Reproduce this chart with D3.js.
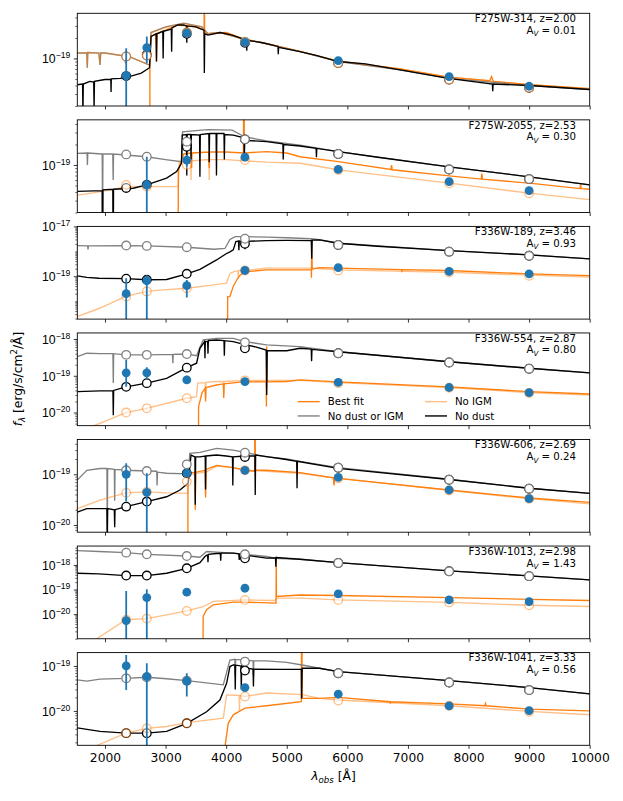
<!DOCTYPE html>
<html>
<head>
<meta charset="utf-8">
<script src="https://cdn.jsdelivr.net/npm/d3@7"></script>
<style>
body { margin: 0; background: #fff; }
svg { font-family: "DejaVu Sans", sans-serif; }
</style>
</head>
<body>
<div id="chart"></div>
<script>
// filters (observed wavelength of each band) and panel labels
var filters = [2350, 2690, 3350, 4310, 5850, 7680, 9000];
var names = ["F275W-314", "F275W-2055", "F336W-189", "F336W-554", "F336W-606", "F336W-1013", "F336W-1041"];
var redshifts = ["2.00", "2.53", "3.46", "2.87", "2.69", "2.98", "3.33"];
var avs = ["0.01", "0.30", "0.93", "0.80", "0.24", "1.43", "0.56"];
var yLims = [[2e-20, 4.6e-19], [2e-20, 4.6e-19], [1.9e-21, 1e-17], [4.4e-21, 1.46e-18],
             [7.2e-21, 4.86e-19], [1e-21, 5.85e-18], [1.72e-21, 1.98e-19]];
var yMajor = [[1e-19], [1e-19], [1e-17, 1e-19], [1e-18, 1e-19, 1e-20], [1e-19, 1e-20],
              [1e-18, 1e-19, 1e-20], [1e-19, 1e-20]];
var xTicks = [2000, 3000, 4000, 5000, 6000, 7000, 8000, 9000, 10000];
var legendLabels = ["Best fit", "No dust or IGM", "No IGM", "No dust"];

// ---- panel 1 : F275W-314
var p1Fit = [[2739,1e-23],[2741,8e-20],[2760,2.1e-19],[2840,2.3e-19],[2850,9e-20],[2860,2.3e-19],[3000,2.6e-19],[3200,3.1e-19],[3500,2.9e-19],[3636,2.6e-19],[3640,1e-17],[3644,2.4e-19],[3700,2.3e-19],[4000,2.4e-19],[4300,1.9e-19],[4600,1.7e-19],[5218,1.27e-19],[5850,9.1e-20],[6870,7e-20],[7670,5.3e-20],[8350,4.7e-20],[8380,5.4e-20],[8410,4.6e-20],[9010,4.1e-20],[10000,3.6e-20]];
var p1Raw = [[1543,1.2e-19],[1700,1.2e-19],[1708,7.3e-20],[1716,1.22e-19],[1900,1.2e-19],[1917,8e-20],[1930,1.2e-19],[2000,1.2e-19],[2330,1.08e-19],[2338,8.5e-20],[2346,1.07e-19],[2400,1.06e-19],[2736,8e-20],[2760,2.4e-19],[3000,2.9e-19],[3300,3.3e-19],[3600,2.9e-19],[3700,2.3e-19],[3900,2.4e-19],[4300,1.9e-19],[4600,1.7e-19],[5218,1.26e-19],[5850,9e-20],[6870,6.8e-20],[7670,5.1e-20],[9010,4e-20],[10000,3.5e-20]];
var p1NoIgm = [[1543,1.2e-19],[1700,1.2e-19],[1708,7.3e-20],[1716,1.22e-19],[1900,1.2e-19],[1917,8e-20],[1930,1.2e-19],[2000,1.2e-19],[2330,1.08e-19],[2338,8.5e-20],[2346,1.07e-19],[2400,1.06e-19],[2736,8e-20],[2760,2.4e-19],[3000,2.85e-19],[3300,3.25e-19],[3600,2.9e-19],[3700,2.3e-19],[3900,2.4e-19],[4300,1.9e-19],[4600,1.7e-19],[5218,1.27e-19],[5850,9.1e-20],[6870,7e-20],[7670,5.3e-20],[9010,4.1e-20],[10000,3.6e-20]];
var p1NoDust = [[1543,4.1e-20],[1630,4.2e-20],[1636,1.5e-20],[1642,4.2e-20],[1750,4.6e-20],[1814,4.5e-20],[1820,1.8e-20],[1826,4.6e-20],[2000,4.9e-20],[2096,4.9e-20],[2100,3.2e-20],[2104,5e-20],[2250,5.1e-20],[2400,5.4e-20],[2600,6.1e-20],[2735,7.3e-20],[2760,2.1e-19],[2844,2.3e-19],[2850,9e-20],[2856,2.3e-19],[2954,2.5e-19],[2960,1e-19],[2966,2.5e-19],[3094,2.7e-19],[3100,1.25e-19],[3106,2.8e-19],[3200,3.1e-19],[3300,3.1e-19],[3345,3e-19],[3350,1.7e-19],[3355,3e-19],[3500,2.9e-19],[3634,2.6e-19],[3640,6.1e-20],[3646,2.3e-19],[3700,2.2e-19],[3900,2.4e-19],[4100,2.2e-19],[4300,1.9e-19],[4336,1.85e-19],[4340,1.3e-19],[4344,1.85e-19],[4600,1.7e-19],[4855,1.5e-19],[4860,1.15e-19],[4865,1.45e-19],[5218,1.26e-19],[5500,1.1e-19],[5850,9e-20],[6300,8.3e-20],[6870,6.8e-20],[7670,5.1e-20],[8394,4.2e-20],[8400,3.3e-20],[8406,4.2e-20],[9010,4e-20],[10000,3.5e-20]];
var p1Phot = [[1.07e-19,1.1e-19,2.4e-19,1.75e-19,8.5e-20,4.85e-20,3.7e-20],
              [5.5e-20,1.13e-19,2.3e-19,1.7e-19,8.6e-20,4.9e-20,3.7e-20],
              [1.07e-19,1.1e-19,2.4e-19,1.75e-19,8.6e-20,4.9e-20,3.7e-20]];
var p1Obs = [[2350,5.6e-20],[2690,1.44e-19],[3350,2.35e-19],[4310,1.72e-19],[5850,9.3e-20],[7680,5.4e-20],[9000,3.9e-20]];
var p1Err = [[2350,1e-23,1.41e-19],[2690,8.5e-20,2.1e-19]];

// ---- panel 2 : F275W-2055
var p2Fit = [[3206,1e-23],[3210,8.5e-20],[3300,1.45e-19],[3424,1.5e-19],[3430,9e-20],[3436,1.5e-19],[3714,1.55e-19],[3720,9e-20],[3726,1.55e-19],[4000,1.55e-19],[4285,1.5e-19],[4292,1e-17],[4300,1.5e-19],[4667,1.57e-19],[5000,1.5e-19],[5218,1.32e-19],[5850,1.12e-19],[6720,8.6e-20],[6730,1e-19],[6740,8.5e-20],[7680,6.9e-20],[8210,6.2e-20],[8220,7.5e-20],[8230,6.2e-20],[9000,5.4e-20],[9840,4.5e-20],[9850,5.2e-20],[9860,4.5e-20],[10000,4.4e-20]];
var p2Raw = [[1543,1.48e-19],[1704,1.5e-19],[1710,1e-19],[1716,1.5e-19],[1954,1.45e-19],[1960,1.5e-20],[1966,1.45e-19],[2129,1.45e-19],[2135,6e-20],[2141,1.45e-19],[2687,1.32e-19],[3000,1.2e-19],[3265,1.12e-19],[3280,3.07e-19],[3500,3.2e-19],[3700,3.3e-19],[4100,3.25e-19],[4300,2.6e-19],[4667,2.25e-19],[5218,1.96e-19],[5850,1.57e-19],[7680,9.4e-20],[9000,6.7e-20],[10000,5.1e-20]];
var p2NoIgm = [[1543,3.6e-20],[1800,3.9e-20],[2100,4.3e-20],[2346,4.8e-20],[2687,4.8e-20],[3000,4.8e-20],[3210,4.8e-20],[3225,1.1e-19],[3414,1.15e-19],[3420,6e-20],[3426,1.15e-19],[3714,1.2e-19],[3720,6e-20],[3726,1.2e-19],[4000,1.2e-19],[4300,1.15e-19],[4667,1.1e-19],[5218,1.06e-19],[5541,9.5e-20],[5850,8.45e-20],[7680,5.4e-20],[9000,3.85e-20],[10000,3.1e-20]];
var p2NoDust = [[1543,4.1e-20],[1954,4.2e-20],[1960,1e-21],[1966,4.3e-20],[2129,4.4e-20],[2135,1e-21],[2141,4.4e-20],[2467,4.55e-20],[2687,5.1e-20],[3017,6.4e-20],[3182,8e-20],[3262,1.06e-19],[3275,2.75e-19],[3344,2.8e-19],[3350,7e-20],[3356,2.8e-19],[3414,2.8e-19],[3420,1.2e-19],[3426,2.8e-19],[3561,2.75e-19],[3567,6.7e-20],[3573,2.8e-19],[3714,2.9e-19],[3720,1.1e-19],[3726,2.9e-19],[3834,2.9e-19],[3840,7e-20],[3846,2.9e-19],[3964,2.9e-19],[3970,1.2e-19],[3976,2.8e-19],[4117,2.75e-19],[4294,2.5e-19],[4300,1.2e-19],[4306,2.3e-19],[4667,2.2e-19],[4936,2.05e-19],[4942,1.2e-19],[4948,2e-19],[5218,1.9e-19],[5484,1.75e-19],[5490,1.3e-19],[5496,1.75e-19],[5850,1.57e-19],[6500,1.3e-19],[7680,9.4e-20],[9000,6.7e-20],[10000,5.1e-20]];
var p2Phot = [[5.1e-20,4.8e-20,1.0e-19,1.18e-19,8.4e-20,5.4e-20,3.85e-20],
              [4.6e-20,5.1e-20,1.85e-19,2.38e-19,1.45e-19,8.6e-20,6.2e-20],
              [1.43e-19,1.32e-19,2.2e-19,2.38e-19,1.45e-19,8.6e-20,6.2e-20]];
var p2Obs = [[2690,5.1e-20],[3350,1.18e-19],[4310,1.3e-19],[5850,8.6e-20],[7680,5.7e-20],[9000,4.2e-20]];
var p2Err = [[2690,1e-23,1.32e-19],[3350,9.5e-20,1.4e-19]];

// ---- panel 3 : F336W-189
var p3Fit = [[4020,1e-23],[4025,1.5e-20],[4062,1.55e-20],[4117,3.9e-20],[4172,6.9e-20],[4230,1.1e-19],[4310,1.5e-19],[4667,1.8e-19],[5000,1.8e-19],[5405,1.8e-19],[5408,8.7e-20],[5412,3.3e-18],[5420,1.9e-19],[5541,2.2e-19],[5850,2.1e-19],[6890,1.85e-19],[6900,1.6e-19],[6910,1.85e-19],[7680,1.7e-19],[9000,1.24e-19],[10000,1.06e-19]];
var p3Raw = [[1543,1.7e-18],[1714,1.65e-18],[1720,1.2e-18],[1726,1.65e-18],[2346,1.7e-18],[2687,1.65e-18],[3350,1.46e-18],[3800,1.21e-18],[3980,1.3e-18],[4062,3e-18],[4150,3.9e-18],[4310,3.9e-18],[4667,3.7e-18],[5000,3.5e-18],[5400,3.2e-18],[5541,2.9e-18],[5850,2.1e-18],[7680,1.07e-18],[9000,7.2e-19],[10000,5e-19]];
var p3NoIgm = [[1543,2.4e-21],[1917,5.3e-21],[2346,1.55e-20],[2687,2.45e-20],[3017,2.9e-20],[3350,3.3e-20],[3700,4.2e-20],[4007,5.3e-20],[4062,1.3e-19],[4150,1.6e-19],[4194,1.6e-19],[4200,8e-20],[4206,1.7e-19],[4310,1.7e-19],[4667,2.1e-19],[5000,2.1e-19],[5400,2.1e-19],[5850,1.8e-19],[7680,1.45e-19],[9000,1.1e-19],[10000,9.3e-20]];
var p3NoDust = [[1543,1.04e-19],[1700,9e-20],[1900,8.3e-20],[2346,8e-20],[2687,7.2e-20],[3017,7.4e-20],[3350,1.25e-19],[3567,1.9e-19],[3842,4.5e-19],[4000,8e-19],[4062,9.5e-19],[4117,1.14e-18],[4160,2.45e-18],[4204,2.6e-18],[4210,1.1e-18],[4216,2.6e-18],[4304,2.4e-18],[4310,1.2e-18],[4316,2.5e-18],[4667,2.7e-18],[5000,2.75e-18],[5405,2.7e-18],[5412,5e-19],[5420,2.8e-18],[5541,2.86e-18],[5850,2.1e-18],[6500,1.6e-18],[7680,1.07e-18],[9000,7.2e-19],[10000,5e-19]];
var p3Phot = [[1.55e-20,2.45e-20,3.3e-20,1.7e-19,1.7e-19,1.41e-19,1.04e-19],
              [8e-20,7.2e-20,1.25e-19,2e-18,1.8e-18,9.7e-19,6.6e-19],
              [1.7e-18,1.65e-18,1.46e-18,3.2e-18,1.8e-18,9.7e-19,6.6e-19]];
var p3Obs = [[2350,2e-20],[2690,6.6e-20],[3350,4.2e-20],[4310,1.7e-19],[5850,2.2e-19],[7680,1.55e-19],[9000,1.25e-19]];
var p3Err = [[2350,1e-23,8.3e-20],[2690,1e-23,1.1e-19],[3350,1.4e-20,7e-20]];

// ---- panel 4 : F336W-554
var p4Fit = [[3540,1e-23],[3545,1.45e-20],[3600,3.4e-20],[3654,4.6e-20],[3660,2e-20],[3666,4.8e-20],[3842,5.6e-20],[3954,6e-20],[3960,2.5e-20],[3966,6e-20],[4310,6.9e-20],[4660,6.8e-20],[4664,1.45e-20],[4669,6.2e-19],[4674,6.8e-20],[5000,7e-20],[5218,7.7e-20],[5850,6.8e-20],[7680,5e-20],[9000,3.7e-20],[10000,3.2e-20]];
var p4Raw = [[1543,3.3e-19],[1700,4.1e-19],[1917,4e-19],[2131,4e-19],[2137,6.4e-20],[2143,4e-19],[2346,3.7e-19],[2687,3.7e-19],[3114,3.8e-19],[3120,2.2e-19],[3126,3.8e-19],[3350,3.9e-19],[3512,3.5e-19],[3567,6e-19],[3622,9.4e-19],[3842,1.04e-18],[4117,1.04e-18],[4310,8.5e-19],[4667,6.9e-19],[5218,6.2e-19],[5850,4.5e-19],[7680,2.4e-19],[9000,1.6e-19],[10000,1.2e-19]];
var p4NoIgm = [[1543,3e-21],[1917,5.1e-21],[2346,1e-20],[2687,1.3e-20],[3350,2.45e-20],[3512,2.7e-20],[3530,6.3e-20],[3654,6.5e-20],[3660,2.5e-20],[3666,6.6e-20],[3842,7e-20],[3954,7e-20],[3960,3e-20],[3966,7e-20],[4310,7.5e-20],[4667,7.5e-20],[5218,7.5e-20],[5850,6.5e-20],[7680,4.8e-20],[9000,3.5e-20],[10000,3e-20]];
var p4NoDust = [[1543,3.7e-20],[1917,3.9e-20],[2131,3.9e-20],[2137,8.5e-21],[2143,4e-20],[2346,5e-20],[2687,6.3e-20],[3017,8.5e-20],[3350,1.66e-19],[3512,2.2e-19],[3567,5.6e-19],[3644,8.5e-19],[3650,3e-19],[3656,8.5e-19],[3694,8.5e-19],[3700,4e-19],[3706,9e-19],[3842,9.4e-19],[3964,9e-19],[3970,3.5e-19],[3976,9e-19],[4117,8.5e-19],[4310,7e-19],[4500,6e-19],[4660,5e-19],[4669,3e-20],[4678,4.8e-19],[5000,4.8e-19],[5218,5.6e-19],[5404,5.3e-19],[5410,2.5e-19],[5416,5.2e-19],[5850,4.5e-19],[7680,2.4e-19],[9000,1.6e-19],[10000,1.2e-19]];
var p4Phot = [[1e-20,1.3e-20,2.45e-20,7.5e-20,6.3e-20,4.7e-20,3.4e-20],
              [5e-20,6.3e-20,1.66e-19,5.6e-19,4.1e-19,2.3e-19,1.55e-19],
              [3.7e-19,3.7e-19,3.9e-19,8.1e-19,4.1e-19,2.3e-19,1.55e-19]];
var p4Obs = [[2350,1.2e-19],[2690,1.2e-19],[3350,7.7e-20],[4310,6.9e-20],[5850,6.6e-20],[7680,4.8e-20],[9000,3.5e-20]];
var p4Err = [[2350,5e-20,2.7e-19],[2690,8e-20,1.7e-19],[3350,6e-20,1e-19]];

// ---- panel 5 : F336W-606
var p5Fit = [[3365,1e-23],[3370,1.05e-19],[3484,1.1e-19],[3490,2e-20],[3496,1.1e-19],[3654,1.2e-19],[3660,3.5e-20],[3666,1.25e-19],[3842,1.5e-19],[4117,1.35e-19],[4310,1.2e-19],[4470,1.15e-19],[4476,1e-17],[4482,1.2e-19],[4667,1.2e-19],[5218,1.08e-19],[5770,8.5e-20],[5780,6e-20],[5790,8.5e-20],[5850,8.3e-20],[7680,4.9e-20],[9000,3.4e-20],[10000,2.8e-20]];
var p5Raw = [[1543,7.7e-20],[1700,1.2e-19],[1917,1.3e-19],[2032,1.3e-19],[2038,7e-21],[2044,1.3e-19],[2154,1.25e-19],[2160,3e-20],[2166,1.25e-19],[2346,1.2e-19],[2687,1.16e-19],[2854,1.15e-19],[2860,6e-20],[2866,1.1e-19],[3017,1.05e-19],[3350,1.02e-19],[3375,1e-19],[3400,2.6e-19],[3567,2.7e-19],[3842,3.25e-19],[4117,3e-19],[4310,2.7e-19],[4667,2.2e-19],[5000,2e-19],[5218,1.8e-19],[5850,1.35e-19],[7680,8e-20],[9000,5.3e-20],[10000,4.2e-20]];
var p5NoIgm = [[1543,2.1e-20],[1917,3.1e-20],[2346,4.3e-20],[2687,4.5e-20],[3017,4.3e-20],[3365,4.2e-20],[3380,1.05e-19],[3484,1e-19],[3490,3.5e-20],[3496,1.05e-19],[3654,1.1e-19],[3660,4e-20],[3666,1.1e-19],[3842,1.45e-19],[4117,1.35e-19],[4310,1.2e-19],[4667,1.15e-19],[5218,1.05e-19],[5770,8.5e-20],[5780,6.5e-20],[5790,8.5e-20],[7680,4.8e-20],[9000,3.3e-20],[10000,2.6e-20]];
var p5NoDust = [[1543,1.8e-20],[1700,2.1e-20],[2032,2.1e-20],[2038,4e-21],[2044,2.1e-20],[2154,2e-20],[2160,9e-21],[2166,2e-20],[2346,2.3e-20],[2687,2.9e-20],[3017,3.6e-20],[3237,4.9e-20],[3375,6.7e-20],[3420,2.4e-19],[3484,2.2e-19],[3490,2.5e-20],[3496,2.2e-19],[3567,2.2e-19],[3654,2.3e-19],[3660,5e-20],[3666,2.3e-19],[3842,2.4e-19],[4000,2.3e-19],[4104,2.2e-19],[4110,6e-20],[4116,2.2e-19],[4310,2.3e-19],[4474,2.3e-19],[4480,3.9e-20],[4486,2.4e-19],[4700,2.2e-19],[4942,2e-19],[5164,1.8e-19],[5170,5.3e-20],[5176,1.8e-19],[5218,1.77e-19],[5850,1.31e-19],[7680,7.9e-20],[9000,5.3e-20],[10000,4.2e-20]];
var p5Phot = [[4.3e-20,4.5e-20,7.2e-20,1.2e-19,8.3e-20,4.8e-20,3.3e-20],
              [2.3e-20,2.9e-20,1.05e-19,2.2e-19,1.35e-19,7.8e-20,5.2e-20],
              [1.2e-19,1.16e-19,1.57e-19,2.67e-19,1.35e-19,7.8e-20,5.2e-20]];
var p5Obs = [[2350,1e-19],[2690,4.4e-20],[3350,1.05e-19],[4310,1.2e-19],[5850,8.7e-20],[7680,4.9e-20],[9000,3.3e-20]];
var p5Err = [[2350,2.9e-20,1.65e-19],[2690,1e-23,1.05e-19],[3350,9e-20,1.2e-19]];

// ---- panel 6 : F336W-1013
var p6Fit = [[3615,1e-23],[3620,8e-21],[3677,1.5e-20],[3787,2.4e-20],[4117,3.1e-20],[4310,3.1e-20],[4800,2.8e-20],[4823,2.8e-20],[4826,2.2e-18],[4830,5.2e-20],[5218,6e-20],[5850,5.7e-20],[7680,4.7e-20],[9000,4e-20],[10000,3.6e-20]];
var p6Raw = [[1543,3.8e-18],[1900,3.5e-18],[2346,3.16e-18],[2687,2.7e-18],[3350,2.3e-18],[3567,2.05e-18],[3677,3.5e-18],[3842,3.3e-18],[4117,3e-18],[4310,2.7e-18],[4667,2.2e-18],[4796,1.87e-18],[5218,1.7e-18],[5850,1.24e-18],[7680,5.7e-19],[9000,3.6e-19],[10000,2.46e-19]];
var p6NoIgm = [[1862,1e-21],[2346,5.9e-21],[2687,6.6e-21],[3017,9.4e-21],[3350,1.35e-20],[3620,2e-20],[3787,3.3e-20],[4310,3.8e-20],[4800,3.6e-20],[4840,4.5e-20],[5218,4.5e-20],[5850,3.8e-20],[7680,3e-20],[9000,2.3e-20],[10000,2.05e-20]];
var p6NoDust = [[1543,4.6e-19],[1900,4.3e-19],[2346,3.7e-19],[2687,3.7e-19],[3017,4.6e-19],[3350,7.3e-19],[3567,1.24e-18],[3650,2.2e-18],[3677,2.5e-18],[3694,2.5e-18],[3700,1.3e-18],[3706,2.7e-18],[3842,2.9e-18],[3904,2.9e-18],[3910,1.5e-18],[3916,3e-18],[4117,3e-18],[4209,2.8e-18],[4215,1.6e-18],[4221,2.7e-18],[4310,2.5e-18],[4667,1.9e-18],[4814,1.95e-18],[4820,8.5e-19],[4826,2e-18],[5218,1.7e-18],[5850,1.24e-18],[7680,5.7e-19],[9000,3.6e-19],[10000,2.46e-19]];
var p6Phot = [[5.9e-21,6.6e-21,1.35e-20,3.8e-20,3.8e-20,3e-20,2.3e-20],
              [3.7e-19,3.7e-19,7.3e-19,1.87e-18,1.2e-18,5.5e-19,3.5e-19],
              [3.16e-18,2.7e-18,2.3e-18,2.7e-18,1.2e-18,5.5e-19,3.5e-19]];
var p6Obs = [[2350,5.5e-21],[2690,4.7e-20],[3350,7.8e-20],[4310,1.13e-19],[5850,6.7e-20],[7680,3.8e-20],[9000,3.2e-20]];
var p6Err = [[2350,1e-23,8.8e-20],[2690,1e-23,1.03e-19]];

// ---- panel 7 : F336W-1041
var p7Fit = [[3952,1e-23],[3960,1e-21],[4034,5.3e-21],[4117,8.2e-21],[4310,1.15e-20],[4667,1.3e-20],[5240,1.6e-20],[5247,1e-17],[5255,1.9e-20],[5541,1.9e-20],[5850,2e-20],[6704,1.6e-20],[6710,1.45e-20],[6716,1.6e-20],[7680,1.43e-20],[8270,1.3e-20],[8280,1.45e-20],[8290,1.3e-20],[9000,1.1e-20],[10000,1e-20]];
var p7Raw = [[1543,4.9e-20],[1700,4.6e-20],[1917,5.1e-20],[2346,5.3e-20],[2687,5.6e-20],[3017,5.2e-20],[3350,4.7e-20],[3952,3.8e-20],[4062,1.35e-19],[4144,1.4e-19],[4150,6e-20],[4156,1.4e-19],[4310,1.35e-19],[4444,1.3e-19],[4450,6e-20],[4456,1.3e-19],[4667,1.3e-19],[5000,1.2e-19],[5250,1.05e-19],[5541,8.9e-20],[5850,7.5e-20],[7680,4.7e-20],[9000,3.3e-20],[10000,2.4e-20]];
var p7NoIgm = [[1862,1.7e-21],[2346,3.2e-21],[2687,4.1e-21],[3017,4.5e-21],[3350,5.5e-21],[3952,6.9e-21],[4007,2.27e-20],[4214,2.2e-20],[4220,1e-20],[4226,2.2e-20],[4310,2.1e-20],[4667,2.5e-20],[5250,2.3e-20],[5541,1.9e-20],[5850,1.75e-20],[7680,1.3e-20],[9000,9.8e-21],[10000,8.2e-21]];
var p7NoDust = [[1543,4.2e-21],[1917,3.5e-21],[2346,3.2e-21],[2687,3.2e-21],[3017,3.5e-21],[3350,5.3e-21],[3677,9.6e-21],[3897,1.75e-20],[4007,4.1e-20],[4062,9.7e-20],[4117,1.05e-19],[4144,1.05e-19],[4150,3e-20],[4156,1.05e-19],[4244,1e-19],[4250,3e-20],[4256,1e-19],[4310,9e-20],[4444,8.5e-20],[4450,3.5e-20],[4456,8.5e-20],[4900,8.4e-20],[5240,8.4e-20],[5245,1.9e-20],[5255,8.9e-20],[5541,8.9e-20],[5850,7.5e-20],[7680,4.7e-20],[9000,3.3e-20],[10000,2.4e-20]];
var p7Phot = [[3.2e-21,4.1e-21,5.3e-21,2.1e-20,1.7e-20,1.3e-20,9.6e-21],
              [3.2e-21,3.2e-21,5.3e-21,7.9e-20,6.9e-20,4.3e-20,2.9e-20],
              [5.3e-20,5.6e-20,4.7e-20,1.25e-19,6.9e-20,4.3e-20,2.9e-20]];
var p7Obs = [[2350,1e-19],[2690,5.8e-20],[3350,4.6e-20],[4310,3.3e-20],[5850,2.35e-20],[7680,1.3e-20],[9000,1.02e-20]];
var p7Err = [[2350,2.9e-20,1.76e-19],[2690,1e-23,1.15e-19],[3350,2.1e-20,6.9e-20]];

var fits = [p1Fit, p2Fit, p3Fit, p4Fit, p5Fit, p6Fit, p7Fit];
var raws = [p1Raw, p2Raw, p3Raw, p4Raw, p5Raw, p6Raw, p7Raw];
var noIgms = [p1NoIgm, p2NoIgm, p3NoIgm, p4NoIgm, p5NoIgm, p6NoIgm, p7NoIgm];
var noDusts = [p1NoDust, p2NoDust, p3NoDust, p4NoDust, p5NoDust, p6NoDust, p7NoDust];
var phots = [p1Phot, p2Phot, p3Phot, p4Phot, p5Phot, p6Phot, p7Phot];
var obss = [p1Obs, p2Obs, p3Obs, p4Obs, p5Obs, p6Obs, p7Obs];
var errs = [p1Err, p2Err, p3Err, p4Err, p5Err, p6Err, p7Err];

var ORANGE = "#ff7f0e", BLUE = "#1f77b4", GRAY = "#808080";
var left = 77.3, right = 589.7;
var top0 = 13.3, step = 106.55, panelH = 92.7;
var LW = 1.35;

var svg = d3.select("#chart").append("svg")
    .attr("width", 623)
    .attr("height", 801);

var x = d3.scaleLinear().domain([1543, 10000]).range([left, right]);

function supText(sel, v) {
    var e = Math.round(Math.log10(v));
    sel.append("tspan").text("10");
    sel.append("tspan").attr("dy", -5).attr("font-size", "8.6px").text("\u2212" + Math.abs(e));
}

names.forEach(function (name, i) {
    var top = top0 + i * step, bottom = top + panelH;
    var y = d3.scaleLog().domain(yLims[i]).range([bottom, top]);
    var g = svg.append("g");

    svg.append("clipPath").attr("id", "clip" + i)
        .append("rect").attr("x", left).attr("y", top)
        .attr("width", right - left).attr("height", panelH);

    var plot = g.append("g").attr("clip-path", "url(#clip" + i + ")");
    var line = d3.line().x(function (d) { return x(d[0]); }).y(function (d) { return y(d[1]); });

    plot.append("path").datum(fits[i]).attr("d", line)
        .attr("fill", "none").attr("stroke", ORANGE).attr("stroke-width", LW);
    plot.append("path").datum(raws[i]).attr("d", line)
        .attr("fill", "none").attr("stroke", GRAY).attr("stroke-width", LW);
    plot.append("path").datum(noIgms[i]).attr("d", line)
        .attr("fill", "none").attr("stroke", ORANGE).attr("stroke-opacity", 0.5).attr("stroke-width", LW);
    plot.append("path").datum(noDusts[i]).attr("d", line)
        .attr("fill", "none").attr("stroke", "#000").attr("stroke-width", LW);

    // model photometry: no dust, no dust or IGM, no IGM
    var ph = phots[i];
    [[ph[1], "#000", 1], [ph[2], GRAY, 1], [ph[0], ORANGE, 0.5]].forEach(function (s) {
        plot.append("g").attr("opacity", s[2]).selectAll("circle")
            .data(s[0]).enter().append("circle")
            .attr("cx", function (d, k) { return x(filters[k]); })
            .attr("cy", function (d) { return y(d); })
            .attr("r", 4.3)
            .attr("fill", "#fff")
            .attr("stroke", s[1])
            .attr("stroke-width", 1.3);
    });

    // observed photometry
    plot.selectAll("line.err").data(errs[i]).enter().append("line")
        .attr("x1", function (d) { return x(d[0]); })
        .attr("x2", function (d) { return x(d[0]); })
        .attr("y1", function (d) { return y(d[1]); })
        .attr("y2", function (d) { return y(d[2]); })
        .attr("stroke", BLUE).attr("stroke-width", 1.8);
    plot.selectAll("circle.obs").data(obss[i]).enter().append("circle")
        .attr("cx", function (d) { return x(d[0]); })
        .attr("cy", function (d) { return y(d[1]); })
        .attr("r", 4.4)
        .attr("fill", BLUE);

    // axes
    var xa = g.append("g").attr("transform", "translate(0," + bottom + ")")
        .call(d3.axisBottom(x).tickValues(xTicks).tickSize(3.5).tickPadding(4.5)
            .tickFormat(i == 6 ? d3.format("d") : function () { return ""; }));
    xa.select(".domain").remove();
    xa.selectAll("line").attr("stroke", "#000").attr("stroke-width", 0.8);
    xa.selectAll("text").attr("font-size", "12.3px").attr("fill", "#000")
        .attr("font-family", "DejaVu Sans");

    var lo = yLims[i][0], hi = yLims[i][1];
    var minors = [];
    for (var n = Math.floor(Math.log10(lo)); n <= Math.ceil(Math.log10(hi)); n++) {
        for (var k = 1; k <= 9; k++) {
            var v = k * Math.pow(10, n);
            var isMajor = yMajor[i].some(function (m) { return Math.abs(Math.log10(m) - Math.log10(v)) < 1e-6; });
            if (v >= lo && v <= hi && !isMajor) minors.push(v);
        }
    }
    var ym = g.append("g").attr("transform", "translate(" + left + ",0)")
        .call(d3.axisLeft(y).tickValues(minors).tickSize(2).tickFormat(function () { return ""; }));
    ym.select(".domain").remove();
    ym.selectAll("line").attr("stroke", "#000").attr("stroke-width", 0.6);

    var yM = g.append("g").attr("transform", "translate(" + left + ",0)")
        .call(d3.axisLeft(y).tickValues(yMajor[i]).tickSize(3.5).tickFormat(function () { return ""; }));
    yM.select(".domain").remove();
    yM.selectAll("line").attr("stroke", "#000").attr("stroke-width", 0.8);
    yM.selectAll(".tick").each(function (v) {
        var t = d3.select(this).append("text")
            .attr("x", -7).attr("dy", "0.35em")
            .attr("text-anchor", "end")
            .attr("font-size", "12.3px")
            .attr("fill", "#000");
        supText(t, v);
    });

    g.append("rect").attr("x", left).attr("y", top)
        .attr("width", right - left).attr("height", panelH)
        .attr("fill", "none").attr("stroke", "#000").attr("stroke-width", 0.9);

    // annotation
    g.append("text").attr("x", 576).attr("y", top + 8.8)
        .attr("text-anchor", "end").attr("font-size", "10.2px")
        .text(name + ", z=" + redshifts[i]);
    var t2 = g.append("text").attr("x", 576).attr("y", top + 20.5)
        .attr("text-anchor", "end").attr("font-size", "10.2px");
    t2.append("tspan").text("A");
    t2.append("tspan").attr("dy", 2.5).attr("font-size", "7.2px").attr("font-style", "italic").text("V");
    t2.append("tspan").attr("dy", -2.5).text(" = " + avs[i]);

    // legend in the fourth panel
    if (i == 3) {
        var styles = [[ORANGE, 1], [GRAY, 1], [ORANGE, 0.5], ["#000", 1]];
        legendLabels.forEach(function (lab, j) {
            var col = Math.floor(j / 2), row = j % 2;
            var lx = 297.7 + col * 127.3, ly = top + 68.7 + row * 14.3;
            g.append("line").attr("x1", lx).attr("x2", lx + 22)
                .attr("y1", ly).attr("y2", ly)
                .attr("stroke", styles[j][0]).attr("stroke-opacity", styles[j][1])
                .attr("stroke-width", 1.4);
            g.append("text").attr("x", lx + 30).attr("y", ly + 3.6)
                .attr("font-size", "10.2px").text(lab);
        });
    }
});

// axis labels
var xl = svg.append("text").attr("x", 333.5).attr("y", 780)
    .attr("text-anchor", "middle").attr("font-size", "12.3px");
xl.append("tspan").attr("font-style", "italic").text("\u03bb");
xl.append("tspan").attr("font-style", "italic").attr("font-size", "8.6px").attr("dy", 2.5).text("obs");
xl.append("tspan").attr("dy", -2.5).text(" [\u00c5]");

var yl = svg.append("text").attr("transform", "translate(22,379) rotate(-90)")
    .attr("text-anchor", "middle").attr("font-size", "12.3px");
yl.append("tspan").attr("font-style", "italic").text("f");
yl.append("tspan").attr("font-style", "italic").attr("font-size", "8.6px").attr("dy", 2.5).text("\u03bb");
yl.append("tspan").attr("dy", -2.5).text(" [erg/s/cm");
yl.append("tspan").attr("font-size", "8.6px").attr("dy", -5).text("2");
yl.append("tspan").attr("dy", 5).text("/\u00c5]");
</script>
</body>
</html>
